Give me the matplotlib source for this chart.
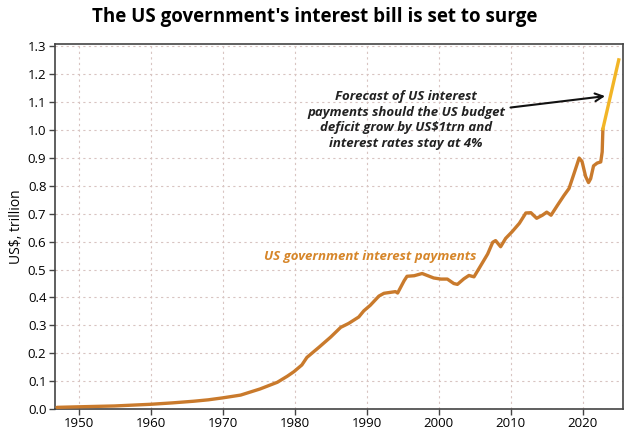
import matplotlib.pyplot as plt

# values (US$ trillion)
years = [1947.0, 1950, 1955, 1960, 1963, 1966, 1968, 1970, 1972.5, 1975.2, 1977.6,
         1979.0, 1979.9, 1981.0, 1981.7, 1983.4, 1985.0, 1986.4, 1987.5, 1988.9,
         1989.6, 1990.5, 1991.7, 1992.4, 1994.0, 1994.3, 1995.2, 1995.6, 1996.6,
         1997.7, 1999.3, 2000.3, 2001.2, 2002.1, 2002.6, 2003.5, 2004.2, 2004.9,
         2005.6, 2006.8, 2007.5, 2007.9, 2008.6, 2009.3, 2010.2, 2011.2, 2012.1,
         2012.8, 2013.6, 2014.4, 2015.0, 2015.6, 2016.5, 2017.4, 2018.1, 2018.8,
         2019.5, 2019.9, 2020.4, 2020.8, 2021.1, 2021.5, 2022.0, 2022.5, 2022.7,
         2022.8]
payments = [0.006, 0.008, 0.011, 0.017, 0.022, 0.028, 0.033, 0.040, 0.050, 0.072,
            0.096, 0.118, 0.134, 0.158, 0.185, 0.222, 0.258, 0.293, 0.307, 0.330,
            0.352, 0.372, 0.405, 0.415, 0.421, 0.416, 0.460, 0.476, 0.478, 0.486,
            0.470, 0.466, 0.466, 0.450, 0.447, 0.467, 0.479, 0.474, 0.504, 0.556,
            0.598, 0.604, 0.582, 0.612, 0.636, 0.666, 0.703, 0.704, 0.684, 0.695,
            0.706, 0.695, 0.731, 0.766, 0.791, 0.845, 0.900, 0.888, 0.834, 0.812,
            0.826, 0.872, 0.882, 0.886, 0.922, 1.005]
forecast_years = [2022.8, 2025.0]
forecast_vals = [1.005, 1.252]

xticks = [1950, 1960, 1970, 1980, 1990, 2000, 2010, 2020]
yticks = [0.0, 0.1, 0.2, 0.3, 0.4, 0.5, 0.6, 0.7, 0.8, 0.9, 1.0, 1.1, 1.2, 1.3]

plt.rcParams['font.family'] = ['Open Sans', 'DejaVu Sans']

fig = plt.figure(figsize=(6.3, 4.37), dpi=100)
ax = fig.add_axes([0.087, 0.064, 0.902, 0.836])

brown = '#c97a2c'
gold = '#f2b526'

ax.plot(years, payments, color=brown, lw=2.4, solid_capstyle='round', zorder=3)
ax.plot(forecast_years, forecast_vals, color=gold, lw=2.4, zorder=3)

ax.set_xlim(1946.7, 2025.6)
ax.set_ylim(0, 1.31)
ax.set_xticks(xticks)
ax.set_yticks(yticks)
ax.set_yticklabels([f'{v:.1f}' for v in yticks])
ax.tick_params(labelsize=9.5, length=4, width=1, color='#444444', pad=2)
ax.grid(True, linestyle=(0, (2, 3)), color='#d8c4c1', lw=0.8)
ax.set_axisbelow(True)
for s in ax.spines.values():
    s.set_color('#444444')
    s.set_linewidth(1.2)

ax.set_ylabel('US$, trillion', fontsize=10, labelpad=3)
fig.suptitle("The US government's interest bill is set to surge",
             fontsize=13.5, fontweight='bold', y=0.985)

ax.text(1990.5, 0.546, 'US government interest payments', color='#d6862a',
        fontsize=9.5, fontweight='bold', style='italic', ha='center', va='center')

ax.annotate('Forecast of US interest\npayments should the US budget\n'
            'deficit grow by US$1trn and\ninterest rates stay at 4%',
            xy=(2023.1, 1.122), xytext=(2009.2, 1.036),
            fontsize=9.5, fontweight='bold', style='italic', color='#222222',
            ha='right', va='center', multialignment='center', linespacing=1.25,
            arrowprops=dict(arrowstyle='->', color='#111111', lw=1.5,
                            mutation_scale=14, shrinkA=2, shrinkB=0))

fig.savefig('out.png', dpi=100)
